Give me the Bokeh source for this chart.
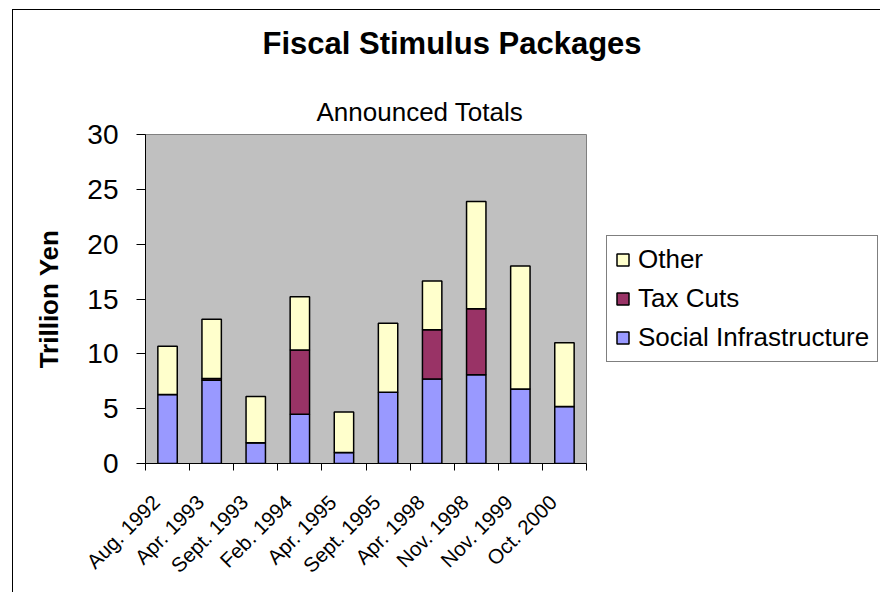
import numpy as np
from bokeh.plotting import figure
from bokeh.models import (ColumnDataSource, Range1d, FixedTicker, LinearAxis,
                          Legend, LegendItem, Title)
from bokeh.embed import file_html
from bokeh.resources import INLINE

categories = ["Aug. 1992", "Apr. 1993", "Sept. 1993", "Feb. 1994", "Apr. 1995",
              "Sept. 1995", "Apr. 1998", "Nov. 1998", "Nov. 1999", "Oct. 2000"]
social_infrastructure = [6.3, 7.6, 1.9, 4.5, 1.0, 6.5, 7.7, 8.1, 6.8, 5.2]
tax_cuts = [0.0, 0.15, 0.0, 5.85, 0.0, 0.0, 4.5, 6.0, 0.0, 0.0]
other = [4.4, 5.4, 4.2, 4.85, 3.7, 6.3, 4.45, 9.8, 11.2, 5.8]
series_names = ["Social Infrastructure", "Tax Cuts", "Other"]
series_colors = ["#9999FF", "#993366", "#FFFFCC"]
y_ticks = [0, 5, 10, 15, 20, 25, 30]

FONT = "Liberation Sans"

n = len(categories)
xpos = np.arange(n) + 0.5
src = ColumnDataSource(dict(x=xpos, si=social_infrastructure, tax=tax_cuts, other=other))

p = figure(frame_width=441, frame_height=329,
           min_border_left=145, min_border_top=133, min_border_right=294, min_border_bottom=130,
           x_range=Range1d(0, n), y_range=Range1d(0, 30),
           x_axis_type=None, y_axis_type=None, title=None,
           output_backend="svg", toolbar_location=None)
p.background_fill_color = "#C0C0C0"
p.border_fill_color = "white"
p.border_fill_alpha = 0
p.outline_line_color = "#808080"
p.outline_line_width = 1
# outer chart border (left and top edges) drawn behind the transparent canvas
p.styles = {
    "background": ("linear-gradient(#000, #000) 12px 9px / 1px 100% no-repeat, "
                   "linear-gradient(#000, #000) 12px 9px / 100% 1px no-repeat, #fff"),
}

renderers = p.vbar_stack(["si", "tax", "other"], x="x", width=0.44, source=src,
                         fill_color=series_colors, line_color="black", line_width=1.5)

# axes
yaxis = LinearAxis(ticker=FixedTicker(ticks=y_ticks, minor_ticks=[]))
yaxis.axis_label = "Trillion Yen"
yaxis.axis_label_text_font = FONT
yaxis.axis_label_text_font_style = "bold"
yaxis.axis_label_text_font_size = "26px"
yaxis.axis_label_text_color = "black"
yaxis.axis_label_standoff = 20
yaxis.major_label_text_font = FONT
yaxis.major_label_text_font_size = "28px"
yaxis.major_label_text_color = "black"
yaxis.major_tick_out = 9
yaxis.major_tick_in = 0
yaxis.major_label_standoff = 18
yaxis.axis_line_color = "black"
yaxis.major_tick_line_color = "black"
p.add_layout(yaxis, "left")

# category labels: rotated text whose end sits just left of each bar centre
label_shift = 0.26
label_pos = xpos - label_shift
xaxis = LinearAxis(ticker=FixedTicker(ticks=list(label_pos), minor_ticks=list(range(n + 1))))
xaxis.major_label_overrides = {float(x): c for x, c in zip(label_pos, categories)}
xaxis.major_label_orientation = np.pi / 4
xaxis.major_label_text_font = FONT
xaxis.major_label_text_font_size = "20.5px"
xaxis.major_label_text_color = "black"
xaxis.major_tick_out = 0
xaxis.major_tick_in = 0
xaxis.minor_tick_out = 7
xaxis.minor_tick_in = 0
xaxis.minor_tick_line_color = "black"
xaxis.major_label_standoff = 28
xaxis.axis_line_color = "black"
p.add_layout(xaxis, "below")

p.ygrid.ticker = FixedTicker(ticks=y_ticks)
p.ygrid.grid_line_color = "black"
p.ygrid.grid_line_width = 1
p.xgrid.grid_line_color = None

# legend
items = [LegendItem(label=series_names[i], renderers=[renderers[i]]) for i in (2, 1, 0)]
legend = Legend(items=items, location=(20, 101), orientation="vertical")
legend.label_text_font = FONT
legend.label_text_font_size = "26px"
legend.label_text_color = "black"
legend.glyph_width = 15
legend.glyph_height = 15
legend.label_height = 30
legend.spacing = 8
legend.padding = 8
legend.margin = 0
legend.label_standoff = 8
legend.border_line_color = "black"
legend.border_line_width = 1
legend.background_fill_color = "white"
legend.background_fill_alpha = 1
p.add_layout(legend, "right")

# titles (subtitle nearest the frame, then main title)
subtitle = Title(text="Announced Totals", align="left", offset=421 - 145 - 105,
                 vertical_align="bottom", standoff=15,
                 text_font=FONT, text_font_size="26px", text_font_style="normal",
                 text_color="black")
title = Title(text="Fiscal Stimulus Packages", align="left", offset=452 - 145 - 190,
              vertical_align="top", standoff=50,
              text_font=FONT, text_font_size="31px", text_font_style="bold",
              text_color="black")
p.add_layout(subtitle, "above")
p.add_layout(title, "above")

open("out.html", "w").write(file_html(p, INLINE))
